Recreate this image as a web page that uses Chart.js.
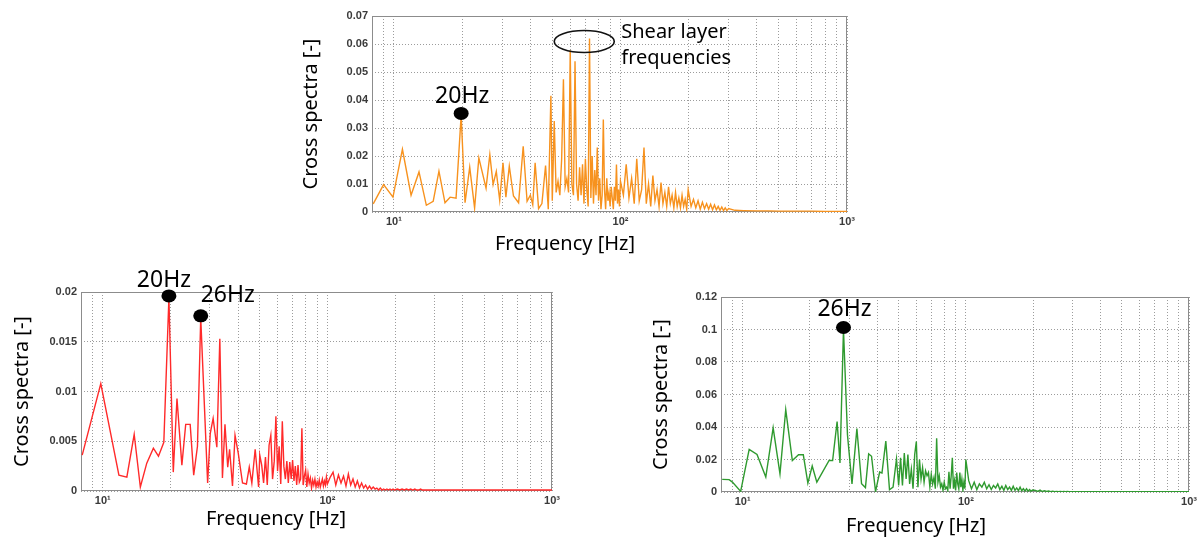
<!DOCTYPE html>
<html>
<head>
<meta charset="utf-8">
<script src="https://cdn.jsdelivr.net/npm/chart.js@4.4.1/dist/chart.umd.min.js"></script>
<style>
  html, body { margin: 0; padding: 0; background: #fff; width: 1198px; height: 541px; overflow: hidden; }
  .box { position: absolute; }
</style>
</head>
<body>
<div class="box" style="left:283px;top:0;width:578px;height:260px"><canvas id="topChart"></canvas></div>
<div class="box" style="left:0;top:264px;width:566px;height:271px"><canvas id="leftChart"></canvas></div>
<div class="box" style="left:640px;top:280px;width:560px;height:262px"><canvas id="rightChart"></canvas></div>
<script>
// x grid / tick values (log axis)
const xGridHz = [8, 9, 10, 20, 30, 40, 50, 60, 70, 80, 90, 100, 200, 300, 400, 500, 600, 700, 800, 900, 1000];
const xTickText = { 10: '10\u00b9', 100: '10\u00b2', 1000: '10\u00b3' };

// shared frequency grid above 50 Hz
const gridHz = [
  51, 52, 53, 54, 55, 56, 57, 58, 59, 60,
  61, 62, 63, 64, 65, 66, 67, 68, 69, 70,
  71, 72, 73, 74, 75, 76, 77, 78, 79, 80,
  81, 82, 83, 84, 85, 86, 87, 88, 89, 90,
  91, 92, 93, 94, 95, 96, 97, 98, 99, 100,
  103, 106, 109, 112, 115, 118, 121, 124, 127, 130,
  133, 136, 139, 142, 145, 148, 151, 154, 157, 160,
  163, 166, 169, 172, 175, 178, 181, 184, 187, 190,
  193, 196, 199,
  205, 210, 215, 220, 225, 230, 235, 240, 245, 250,
  255, 260, 265, 270, 275, 280, 285, 290, 295, 300,
  320, 350, 400, 450, 500, 600, 700, 800, 900, 1000
];

// top chart (orange)
const topLowHz = [8.1, 9.0, 9.9, 10.9, 11.9, 12.9, 13.9, 14.9, 15.8, 16.8, 17.7, 18.8, 19.8, 20.6, 21.6, 22.7, 23.7, 25.5, 26.5, 27.4,
  28.3, 29.3, 30.3, 31.2, 32.3, 33.7, 35.5, 37.2, 38.7, 40.0, 41.0, 42.0, 43.5, 45.0, 46.7, 48.0, 49.3, 50.0];
const topLowVal = [0.0029, 0.0098, 0.0053, 0.0224, 0.0060, 0.0143, 0.0024, 0.0038, 0.0146, 0.0033, 0.0053, 0.0049, 0.0345, 0.0033, 0.0160, 0.0014, 0.0193, 0.0085, 0.0205, 0.0098,
  0.0145, 0.0042, 0.0176, 0.0053, 0.0164, 0.0057, 0.0033, 0.0235, 0.0038, 0.0060, 0.0026, 0.0176, 0.0012, 0.0030, 0.0166, 0.0010, 0.0415, 0.0040];
const topGridVal = [
  0.0325, 0.0070, 0.0110, 0.0060, 0.0190, 0.0474, 0.0090, 0.0120, 0.0070, 0.0578,
  0.0100, 0.0060, 0.0538, 0.0100, 0.0040, 0.0160, 0.0060, 0.0170, 0.0030, 0.0190,
  0.0080, 0.0020, 0.0620, 0.0050, 0.0200, 0.0030, 0.0150, 0.0060, 0.0230, 0.0040,
  0.0120, 0.0010, 0.0060, 0.0330, 0.0080, 0.0010, 0.0120, 0.0040, 0.0070, 0.0020,
  0.0090, 0.0050, 0.0010, 0.0090, 0.0040, 0.0170, 0.0030, 0.0080, 0.0020, 0.0110,
  0.0060, 0.0170, 0.0050, 0.0120, 0.0030, 0.0190, 0.0040, 0.0080, 0.0230, 0.0030,
  0.0100, 0.0020, 0.0130, 0.0040, 0.0080, 0.0020, 0.0105, 0.0030, 0.0070, 0.0020,
  0.0090, 0.0030, 0.0060, 0.0015, 0.0070, 0.0020, 0.0050, 0.0015, 0.0060, 0.0020,
  0.0045, 0.0010, 0.0080,
  0.0020, 0.0045, 0.0015, 0.0040, 0.0010, 0.0035, 0.0012, 0.0030, 0.0010, 0.0028,
  0.0008, 0.0025, 0.0008, 0.0020, 0.0006, 0.0018, 0.0005, 0.0015, 0.0005, 0.0012,
  0.0006, 0.0005, 0.0004, 0.0004, 0.0003, 0.0003, 0.0003, 0.0002, 0.0002, 0.0002
];
const topMarkHz = [19.8];
const topMarkVal = [0.0345];
const topMarkText = ['20Hz'];
const calloutHz = 69.2, calloutVal = 0.0609;
const calloutText = ['Shear layer', 'frequencies'];

// bottom-left chart (red)
const leftLowHz = [8.1, 9.8, 11.8, 12.8, 13.8, 14.7, 15.7, 16.8, 17.7, 18.7, 19.7, 20.6, 21.4, 22.5, 23.4, 24.5, 25.4, 26.4, 27.3, 29.3,
  30.1, 31.0, 32.2, 33.2, 34.1, 35.0, 36.0, 36.7, 37.8, 38.8, 40.1, 41.9, 43.6, 44.9, 46.1, 47.7, 49.4, 50.0];
const leftLowVal = [0.0036, 0.0108, 0.0016, 0.0014, 0.0057, 0.0004, 0.0028, 0.0043, 0.0035, 0.0049, 0.0194, 0.0019, 0.0093, 0.0026, 0.0067, 0.0067, 0.0016, 0.0045, 0.0174, 0.0008,
  0.0058, 0.0073, 0.0044, 0.0153, 0.0013, 0.0067, 0.0024, 0.0042, 0.0005, 0.0056, 0.0038, 0.0008, 0.0007, 0.0024, 0.0008, 0.0042, 0.0004, 0.0036];
const leftGridVal = [
  0.0026, 0.0008, 0.0034, 0.0006, 0.0046, 0.0056, 0.0012, 0.0030, 0.0075, 0.0020,
  0.0045, 0.0007, 0.0070, 0.0025, 0.0012, 0.0030, 0.0008, 0.0029, 0.0012, 0.0031,
  0.0010, 0.0025, 0.0006, 0.0026, 0.0009, 0.0012, 0.0063, 0.0006, 0.0015, 0.0021,
  0.0004, 0.0017, 0.0008, 0.0013, 0.0003, 0.0011, 0.0006, 0.0012, 0.0004, 0.0009,
  0.0005, 0.0011, 0.0004, 0.0008, 0.0012, 0.0005, 0.0010, 0.0006, 0.0014, 0.0007,
  0.0014, 0.0019, 0.0006, 0.0016, 0.0008, 0.0015, 0.0005, 0.0017, 0.0006, 0.0012,
  0.0004, 0.0010, 0.0003, 0.0008, 0.0003, 0.0006, 0.0002, 0.0005, 0.0002, 0.0004,
  0.0002, 0.0003, 0.0001, 0.0003, 0.0001, 0.0002, 0.0001, 0.0002, 0.0001, 0.0002,
  0.0001, 0.0002, 0.0001,
  0.0002, 0.0001, 0.0002, 0.0001, 0.0002, 0.0001, 0.0002, 0.0001, 0.0002, 0.0001,
  0.0001, 0.0002, 0.0001, 0.0001, 0.0001, 0.0001, 0.0001, 0.0001, 0.0001, 0.0001,
  0.0001, 0.0001, 0.0001, 0.0001, 0.0001, 0.0001, 0.0001, 0.0001, 0.0001, 0.0001
];
const leftMarkHz = [19.7, 27.3];
const leftMarkVal = [0.0194, 0.0174];
const leftMarkText = ['20Hz', '26Hz'];

// bottom-right chart (green)
const rightLowHz = [8.1, 8.7, 9.0, 9.8, 10.7, 11.6, 12.7, 13.7, 14.7, 15.6, 16.7, 17.8, 18.7, 19.6, 20.5, 21.5, 24.4, 25.3, 26.5, 27.3,
  28.3, 29.5, 30.9, 32.5, 34.1, 35.5, 36.7, 37.8, 39.4, 41.1, 42.1, 43.8, 45.5, 47.2, 48.9, 50.0];
const rightLowVal = [0.0078, 0.0076, 0.0061, 0.0004, 0.0262, 0.0231, 0.0092, 0.0395, 0.0112, 0.0507, 0.0194, 0.0229, 0.0229, 0.0055, 0.0160, 0.0061, 0.0194, 0.0194, 0.0434, 0.0178,
  0.1000, 0.0350, 0.0050, 0.0390, 0.0051, 0.0027, 0.0235, 0.0220, 0.0002, 0.0123, 0.0117, 0.0313, 0.0014, 0.0030, 0.0204, 0.0040];
const rightGridVal = [
  0.0210, 0.0040, 0.0240, 0.0080, 0.0230, 0.0050, 0.0140, 0.0020, 0.0230, 0.0310,
  0.0030, 0.0200, 0.0080, 0.0150, 0.0060, 0.0130, 0.0100, 0.0120, 0.0030, 0.0110,
  0.0050, 0.0090, 0.0020, 0.0330, 0.0060, 0.0100, 0.0030, 0.0050, 0.0010, 0.0060,
  0.0020, 0.0030, 0.0010, 0.0125, 0.0020, 0.0100, 0.0210, 0.0020, 0.0070, 0.0010,
  0.0120, 0.0050, 0.0020, 0.0120, 0.0030, 0.0080, 0.0010, 0.0060, 0.0020, 0.0200,
  0.0070, 0.0020, 0.0060, 0.0015, 0.0050, 0.0030, 0.0060, 0.0020, 0.0045, 0.0015,
  0.0040, 0.0025, 0.0050, 0.0015, 0.0035, 0.0010, 0.0040, 0.0015, 0.0030, 0.0010,
  0.0035, 0.0010, 0.0025, 0.0008, 0.0030, 0.0008, 0.0020, 0.0006, 0.0020, 0.0005,
  0.0015, 0.0005, 0.0012,
  0.0010, 0.0004, 0.0012, 0.0003, 0.0008, 0.0003, 0.0006, 0.0002, 0.0005, 0.0002,
  0.0004, 0.0002, 0.0004, 0.0002, 0.0003, 0.0002, 0.0003, 0.0002, 0.0002, 0.0002,
  0.0002, 0.0002, 0.0002, 0.0002, 0.0002, 0.0002, 0.0002, 0.0002, 0.0002, 0.0002
];
const rightMarkHz = [28.3];
const rightMarkVal = [0.1];
const rightMarkText = ['26Hz'];

const textFont = '"Noto Sans", sans-serif';
const titleFont = { family: textFont, size: 20, weight: 'normal' };
const tickFont = { family: '"Liberation Sans", Arial, sans-serif', size: 11, weight: 'bold' };

const toPoints = (hz, val) => hz.map((f, i) => ({ x: f, y: val[i] }));

// box around the plot area
const frame = {
  id: 'frame',
  beforeDatasetsDraw(chart) {
    const { ctx, chartArea: a } = chart;
    ctx.save();
    ctx.strokeStyle = '#8c8c8c';
    ctx.lineWidth = 1;
    ctx.strokeRect(Math.round(a.left) + 0.5, Math.round(a.top) + 0.5, Math.round(a.width) - 1, Math.round(a.height) - 1);
    ctx.restore();
  }
};

// black peak dots with labels, optional ellipse callout
const peakMarks = {
  id: 'peakMarks',
  afterDatasetsDraw(chart, args, opts) {
    const { ctx, scales: { x, y } } = chart;
    ctx.save();
    ctx.fillStyle = '#000';
    ctx.textAlign = 'center';
    ctx.textBaseline = 'middle';
    ctx.font = '23px ' + textFont;
    (opts.hz || []).forEach((f, i) => {
      const px = x.getPixelForValue(f);
      const py = y.getPixelForValue(opts.val[i]) - 2;
      ctx.beginPath();
      ctx.ellipse(px, py, 7.5, 6.5, 0, 0, Math.PI * 2);
      ctx.fill();
      const [dx, dy] = opts.offsets[i];
      ctx.fillText(opts.text[i], px + dx, py + dy);
    });
    if (opts.callout) {
      const c = opts.callout;
      const cx = x.getPixelForValue(c.hz), cy = y.getPixelForValue(c.val);
      ctx.strokeStyle = '#111';
      ctx.lineWidth = 1.6;
      ctx.beginPath();
      ctx.ellipse(cx, cy, 30, 11, 0, 0, Math.PI * 2);
      ctx.stroke();
      ctx.textAlign = 'left';
      ctx.textBaseline = 'alphabetic';
      ctx.font = '20px ' + textFont;
      c.lines.forEach((t, i) => ctx.fillText(t, cx + 37, cy - 3 + i * 26));
    }
    ctx.restore();
  }
};

function makeChart(id, o) {
  const gridStyle = { color: '#9c9c9c', lineWidth: 1, drawTicks: false };
  return new Chart(document.getElementById(id), {
    type: 'line',
    data: {
      datasets: [{
        data: toPoints(o.hz, o.val),
        borderColor: o.color, borderWidth: 1.4,
        pointRadius: 0, tension: 0, fill: false
      }]
    },
    options: {
      responsive: true, maintainAspectRatio: false, animation: false,
      layout: { padding: { left: 0, top: o.padTop, right: o.padRight, bottom: 0 } },
      plugins: {
        legend: { display: false },
        tooltip: { enabled: false },
        title: {
          display: true, text: 'Frequency [Hz]', position: 'bottom',
          color: '#000', font: titleFont, padding: { top: o.xTitleTop, bottom: 4 }
        },
        peakMarks: o.marks
      },
      scales: {
        x: {
          type: 'logarithmic', min: 8, max: 1000,
          afterFit: s => { s.height = 16; },
          afterBuildTicks: s => { s.ticks = xGridHz.map(v => ({ value: v })); },
          ticks: {
            autoSkip: false, maxRotation: 0, padding: 3,
            font: tickFont, color: '#3a3a3a',
            callback: v => xTickText[v] || ''
          },
          grid: gridStyle,
          border: { display: false, dash: [1, 2] }
        },
        y: {
          min: 0, max: o.yMax,
          afterFit: s => { s.width = o.yWidth; },
          ticks: {
            stepSize: o.yStep, padding: 4,
            font: tickFont, color: '#3a3a3a',
            callback: v => String(+v.toFixed(4))
          },
          grid: gridStyle,
          border: { display: false, dash: [1, 2] },
          title: {
            display: true, text: 'Cross spectra [-]',
            color: '#000', font: titleFont, padding: { top: o.yTitlePad, bottom: 0 }
          }
        }
      }
    },
    plugins: [frame, peakMarks]
  });
}

makeChart('topChart', {
  hz: topLowHz.concat(gridHz), val: topLowVal.concat(topGridVal),
  color: '#f7921e', yMax: 0.07, yStep: 0.01,
  yWidth: 89, yTitlePad: 16, padTop: 16, padRight: 14, xTitleTop: 4,
  marks: {
    hz: topMarkHz, val: topMarkVal, text: topMarkText, offsets: [[1, -17]],
    callout: { hz: calloutHz, val: calloutVal, lines: calloutText }
  }
});

makeChart('leftChart', {
  hz: leftLowHz.concat(gridHz), val: leftLowVal.concat(leftGridVal),
  color: '#ff2a2a', yMax: 0.02, yStep: 0.005,
  yWidth: 81, yTitlePad: 10, padTop: 28, padRight: 14, xTitleTop: 0,
  marks: { hz: leftMarkHz, val: leftMarkVal, text: leftMarkText, offsets: [[-5, -16], [27, -20]] }
});

makeChart('rightChart', {
  hz: rightLowHz.concat(gridHz), val: rightLowVal.concat(rightGridVal),
  color: '#2f9a2f', yMax: 0.12, yStep: 0.02,
  yWidth: 81, yTitlePad: 9, padTop: 17, padRight: 8, xTitleTop: 6,
  marks: { hz: rightMarkHz, val: rightMarkVal, text: rightMarkText, offsets: [[1, -18]] }
});
</script>
</body>
</html>
